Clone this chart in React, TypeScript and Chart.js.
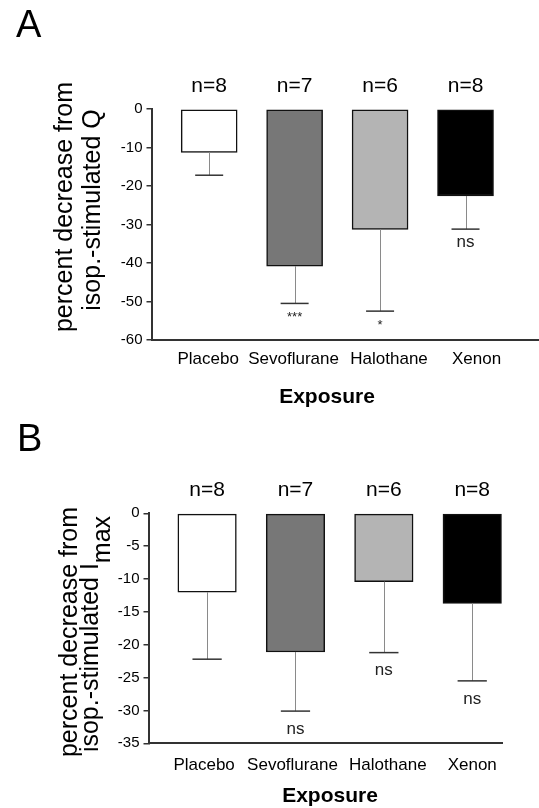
import React, { useEffect, useRef } from 'react';
import { Chart, registerables } from 'chart.js';

Chart.register(...registerables);

const FONT = '"Liberation Sans", Arial, Helvetica, sans-serif';

// ---- data ----
const categories = ['Placebo', 'Sevoflurane', 'Halothane', 'Xenon'];
const nLabels = ['n=8', 'n=7', 'n=6', 'n=8'];
const barColors = ['#ffffff', '#777777', '#b4b4b4', '#000000'];

// Panel A: percent decrease from isop.-stimulated Q
const meansQ = [-11.3, -40.8, -31.3, -22.6];
const sdQ = [5.9, 9.7, 21.2, 8.6];
const sigQ = ['', '***', '*', 'ns'];
const yTicksQ = [0, -10, -20, -30, -40, -50, -60];

// Panel B: percent decrease from isop.-stimulated Imax
const meansI = [-12.0, -21.1, -10.4, -13.7];
const sdI = [10.2, 9.0, 10.8, 11.8];
const sigI = ['', 'ns', 'ns', 'ns'];
const yTicksI = [0, -5, -10, -15, -20, -25, -30, -35];

type Geom = {
  top0: number; height: number;
  left: number; right: number; top: number; bottom: number;
  xMin: number; xMax: number; barThickness: number; labelY: number; labelShift: number[];
  letterX: number; letterY: number;
  t1x: number; t1y: number; t2x: number; t2y: number; subOffset: number;
  expX: number; expY: number; sigOffset: number; sigStarOffset: number;
};

type PanelProps = {
  letter: string; means: number[]; sds: number[]; sig: string[]; yTicks: number[];
  title1: string; title2: string; titleSub: string; geom: Geom;
};

function Panel({ letter, means, sds, sig, yTicks, title1, title2, titleSub, geom }: PanelProps) {
  const ref = useRef<HTMLCanvasElement | null>(null);
  useEffect(() => {
    const canvas = ref.current;
    if (!canvas) return;
    const W = 539, H = geom.height;
    const yMin = Math.min(...yTicks);
    const yMax = Math.max(...yTicks);
    const yStep = Math.abs(yTicks[1] - yTicks[0]);

    const overlay = {
      id: 'overlay' + letter,
      afterDatasetsDraw(chart: any) {
        const ctx = chart.ctx;
        const xs = chart.scales.x;
        const ys = chart.scales.y;
        const meta = chart.getDatasetMeta(0);
        ctx.save();
        for (let i = 0; i < means.length; i++) {
          const x = xs.getPixelForValue(i + 1);
          const yb = ys.getPixelForValue(means[i]);
          const ye = ys.getPixelForValue(means[i] - sds[i]);
          const bw = meta.data[i].width;
          const cap = bw / 4;
          ctx.strokeStyle = '#8a8a8a';
          ctx.lineWidth = 1;
          ctx.beginPath();
          ctx.moveTo(Math.round(x) + 0.5, yb);
          ctx.lineTo(Math.round(x) + 0.5, ye);
          ctx.stroke();
          ctx.strokeStyle = '#333';
          ctx.lineWidth = 1.5;
          ctx.beginPath();
          ctx.moveTo(x - cap, ye);
          ctx.lineTo(x + cap, ye);
          ctx.stroke();
          // significance
          if (sig[i]) {
            ctx.fillStyle = '#222';
            ctx.textAlign = 'center';
            ctx.textBaseline = 'middle';
            if (sig[i].startsWith('*')) {
              ctx.font = '13px ' + FONT;
              ctx.fillText(sig[i], x, ye + geom.sigStarOffset);
            } else {
              ctx.font = '17px ' + FONT;
              ctx.fillText(sig[i], x, ye + geom.sigOffset);
            }
          }
          // n labels
          ctx.fillStyle = '#000';
          ctx.font = '21px ' + FONT;
          ctx.textAlign = 'center';
          ctx.textBaseline = 'middle';
          ctx.fillText(nLabels[i], x, chart.chartArea.top - 23);
          // category labels
          ctx.font = '17px ' + FONT;
          ctx.fillText(categories[i], x + geom.labelShift[i], geom.labelY);
        }
        // panel letter
        ctx.font = '38px ' + FONT;
        ctx.textAlign = 'left';
        ctx.textBaseline = 'alphabetic';
        ctx.fillText(letter, geom.letterX, geom.letterY);
        // y title
        ctx.font = '25px ' + FONT;
        ctx.save();
        ctx.translate(geom.t1x, geom.t1y);
        ctx.rotate(-Math.PI / 2);
        ctx.textAlign = 'center';
        ctx.fillText(title1, 0, 0);
        ctx.restore();
        ctx.save();
        ctx.translate(geom.t2x, geom.t2y);
        ctx.rotate(-Math.PI / 2);
        const wMain = ctx.measureText(title2).width;
        const wSub = titleSub ? ctx.measureText(titleSub).width : 0;
        const start = -(wMain + wSub) / 2;
        ctx.textAlign = 'left';
        ctx.fillText(title2, start, 0);
        if (titleSub) ctx.fillText(titleSub, start + wMain, geom.subOffset);
        ctx.restore();
        // x title
        ctx.font = 'bold 21px ' + FONT;
        ctx.textAlign = 'center';
        ctx.textBaseline = 'middle';
        ctx.fillText('Exposure', geom.expX, geom.expY);
        ctx.restore();
      },
    };

    const chart = new Chart(canvas, {
      type: 'bar',
      data: {
        labels: categories,
        datasets: [
          {
            data: means.map((m, i) => ({ x: i + 1, y: m })),
            backgroundColor: barColors,
            borderColor: '#111',
            borderWidth: 1.5,
            borderSkipped: false,
            barThickness: geom.barThickness,
          } as any,
        ],
      },
      options: {
        responsive: false,
        animation: false,
        devicePixelRatio: 1,
        layout: { padding: { left: 0, top: geom.top, right: W - geom.right, bottom: 0 } },
        plugins: { legend: { display: false }, tooltip: { enabled: false }, title: { display: false } },
        scales: {
          x: {
            type: 'linear',
            offset: false,
            min: geom.xMin,
            max: geom.xMax,
            grid: { display: false, offset: false },
            border: { display: true, color: '#333', width: 2 },
            afterBuildTicks: (s: any) => {
              s.ticks = categories.map((_, i) => ({ value: i + 1 }));
            },
            afterFit: (s: any) => {
              s.height = H - geom.bottom;
            },
            ticks: { display: false },
          } as any,
          y: {
            min: yMin,
            max: yMax,
            grid: { display: true, drawOnChartArea: false, drawTicks: true, tickLength: 5, color: '#333', lineWidth: 1.5 },
            border: { display: true, color: '#333', width: 2 },
            afterBuildTicks: (s: any) => {
              s.ticks = yTicks.slice().sort((a, b) => a - b).map((v) => ({ value: v }));
            },
            afterFit: (s: any) => {
              s.width = geom.left;
            },
            ticks: {
              stepSize: yStep,
              padding: 4,
              color: '#000',
              font: { family: FONT, size: 15 },
            },
          } as any,
        },
      },
      plugins: [overlay],
    });
    return () => chart.destroy();
  }, []);
  return (
    <canvas
      ref={ref}
      width={539}
      height={geom.height}
      style={{ position: 'absolute', left: 0, top: geom.top0, display: 'block', width: 539, height: geom.height }}
    />
  );
}

const geomA: Geom = {
  top0: 0, height: 412,
  left: 151.5, right: 539, top: 109, bottom: 340,
  xMin: 0.325, xMax: 4.86, barThickness: 56, labelY: 359, labelShift: [-1, -1, 9, 11],
  letterX: 16, letterY: 37,
  t1x: 72, t1y: 207, t2x: 100, t2y: 210, subOffset: 0,
  expX: 327, expY: 397, sigOffset: 13, sigStarOffset: 14,
};

const geomB: Geom = {
  top0: 404, height: 404,
  left: 148.5, right: 502, top: 109.3, bottom: 339.3,
  xMin: 0.337, xMax: 4.337, barThickness: 58.5, labelY: 361, labelShift: [-3, -3, 4, 0],
  letterX: 17, letterY: 47,
  t1x: 77, t1y: 228, t2x: 98, t2y: 230, subOffset: 12,
  expX: 330, expY: 392, sigOffset: 18, sigStarOffset: 14,
};

export default function App() {
  return (
    <div style={{ position: 'absolute', left: 0, top: 0, width: 539, height: 808, background: '#fff' }}>
      <Panel letter="A" means={meansQ} sds={sdQ} sig={sigQ} yTicks={yTicksQ}
        title1="percent decrease from" title2="isop.-stimulated Q" titleSub="" geom={geomA} />
      <Panel letter="B" means={meansI} sds={sdI} sig={sigI} yTicks={yTicksI}
        title1="percent decrease from" title2="isop.-stimulated I" titleSub="max" geom={geomB} />
    </div>
  );
}
